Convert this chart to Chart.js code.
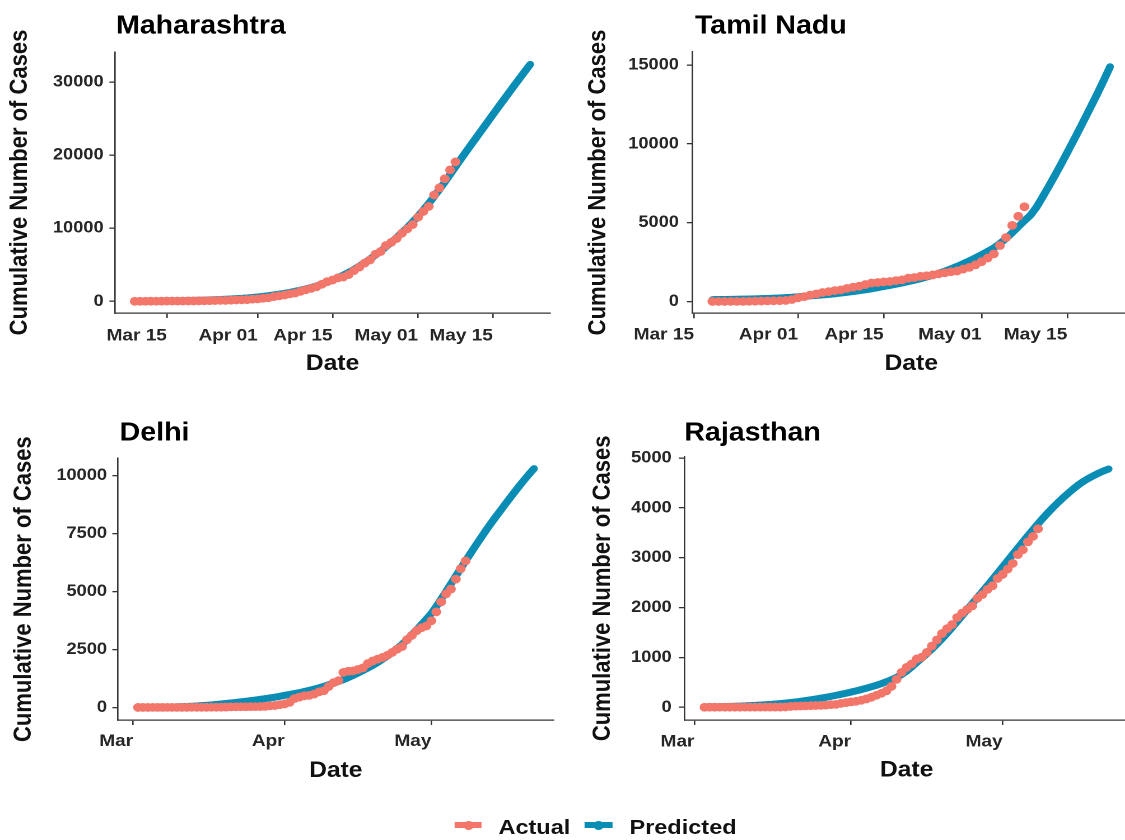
<!DOCTYPE html>
<html>
<head>
<meta charset="utf-8">
<title>Cumulative COVID-19 cases: actual vs predicted</title>
<script src="https://cdn.jsdelivr.net/npm/chart.js@4.4.1/dist/chart.umd.min.js"></script>
<style>
  html, body { margin: 0; padding: 0; background: #fff; width: 1125px; height: 840px; overflow: hidden; }
  /* the figure is laid out on a 1005px-wide sheet and widened to fill the page */
  #fig { position: absolute; left: 0; top: 0; width: 1005px; height: 840px;
         transform: scaleX(1.12); transform-origin: 0 0;
         font-family: 'Liberation Sans', Arial, Helvetica, sans-serif; }
  #fig canvas { position: absolute; }
  .key { position: absolute; height: 6px; top: 822px; }
  .dot { position: absolute; width: 9px; height: 9px; border-radius: 50%; top: 820.5px; }
  .lab { position: absolute; top: 816px; font-size: 21px; line-height: 21px; font-weight: bold; color: #111; white-space: nowrap; }
</style>
</head>
<body>
<div id="fig">
  <canvas id="maharashtra"></canvas>
  <canvas id="tamilnadu"></canvas>
  <canvas id="delhi"></canvas>
  <canvas id="rajasthan"></canvas>

  <div class="key" style="left:406px;width:24px;background:#F3766B"></div>
  <div class="dot" style="left:413.5px;background:#F3766B"></div>
  <div class="lab" style="left:445px">Actual</div>
  <div class="key" style="left:522px;width:25px;background:#0A8DB5"></div>
  <div class="dot" style="left:530px;background:#0A8DB5"></div>
  <div class="lab" style="left:562px">Predicted</div>
</div>

<script>
// ---- days are counted from 1 March 2020 (Mar 1 = 0) ----

// x-axis tick positions and labels
const fortnightTicks  = [14, 31, 45, 61, 75];
const fortnightLabels = ['Mar 15', 'Apr 01', 'Apr 15', 'May 01', 'May 15'];
const monthTicks  = [0, 31, 61];
const monthLabels = ['Mar', 'Apr', 'May'];

// y-axis ticks
const mhYTicks = [0, 10000, 20000, 30000];
const tnYTicks = [0, 5000, 10000, 15000];
const dlYTicks = [0, 2500, 5000, 7500, 10000];
const rjYTicks = [0, 1000, 2000, 3000, 4000, 5000];

// Maharashtra: actual from Mar 9, prediction Mar 9 - May 22
const mhFirstDay = 8;
const mhActual = [
  2, 5, 11, 14, 17, 26, 32, 39, 41, 45, 48, 52, 64, 74, 97, 107, 122, 130, 153, 186, 203, 220, 302,
  335, 423, 490, 635, 748, 868, 1018, 1135, 1364, 1574, 1761, 1982, 2334, 2687, 2916, 3202, 3323, 3648,
  4200, 4676, 5218, 5652, 6427, 6817, 7628, 8068, 8590, 9318, 9915, 10498,
  11506, 12296, 12974, 14541, 15525, 16758, 17974, 19063
];
const mhPredicted = [
  10, 15, 20, 28, 36, 45, 55, 66, 78, 92, 108, 126, 146, 168, 193, 220, 250, 283, 320, 360, 405, 455, 520,
  590, 670, 760, 860, 970, 1090, 1220, 1365, 1525, 1700, 1890, 2100, 2340, 2610, 2900, 3220, 3570, 3950,
  4360, 4800, 5270, 5770, 6300, 6860, 7450, 8070, 8720, 9400, 10110, 10850,
  11650, 12500, 13380, 14320, 15300, 16320, 17350, 18400, 19450, 20480, 21490, 22500, 23510, 24520,
  25530, 26530, 27530, 28520, 29510, 30490, 31460, 32420
];

// Tamil Nadu: actual from Mar 18, prediction Mar 18 - May 22
const tnFirstDay = 17;
const tnActual = [
  2, 3, 3, 6, 7, 9, 15, 18, 26, 38, 42, 50, 67, 124,
  234, 309, 411, 485, 571, 621, 690, 738, 834, 911, 969, 1075, 1173, 1204, 1242, 1267, 1323, 1372,
  1477, 1520, 1596, 1629, 1683, 1755, 1821, 1885, 1937, 2058, 2162, 2323,
  2526, 2757, 3023, 3550, 4058, 4829, 5409, 6009
];
const tnPredicted = [
  120, 124, 129, 135, 142, 150, 159, 169, 180, 193, 208, 225, 244, 268,
  300, 326, 354, 384, 417, 453, 492, 534, 580, 630, 684, 743, 807, 876, 950, 1020, 1095, 1175,
  1260, 1350, 1445, 1550, 1665, 1790, 1925, 2070, 2230, 2400, 2580, 2770,
  2970, 3180, 3400, 3680, 4000, 4360, 4740, 5120, 5480, 6000, 6650, 7320, 8010, 8720, 9450,
  10190, 10940, 11700, 12470, 13250, 14060, 14900
];

// Delhi: actual from Mar 2, prediction Mar 2 - May 22
const dlFirstDay = 1;
const dlActual = [
  1, 1, 1, 3, 3, 3, 3, 4, 4, 5, 6, 7, 7, 7, 7, 8, 10, 12, 17, 26, 29, 30, 31, 35, 36, 39, 49, 72, 87, 120,
  152, 219, 386, 445, 503, 523, 576, 669, 720, 903, 1069, 1154, 1510, 1561, 1578, 1640, 1707, 1893,
  2003, 2081, 2156, 2248, 2376, 2514, 2625, 2918, 3108, 3314, 3439, 3515,
  3738, 4122, 4549, 4898, 5104, 5532, 5980, 6318
];
const dlPredicted = [
  0, 2, 4, 6, 9, 12, 16, 21, 27, 34, 42, 52, 64, 78, 92, 108, 128, 148, 170, 192,
  215, 240, 266, 293, 321, 350, 380, 412, 445, 480,
  525, 560, 598, 640, 686, 736, 790, 848, 910, 976, 1046, 1120, 1200,
  1290, 1385, 1485, 1590, 1700, 1815, 1940, 2075, 2220, 2375, 2540, 2720, 2920, 3130, 3350, 3580, 3810,
  4050, 4350, 4670, 5000, 5330, 5660, 5990, 6320, 6640, 6960, 7270, 7580, 7880, 8170, 8450,
  8730, 9010, 9280, 9550, 9810, 10060, 10300
];

// Rajasthan: actual from Mar 3, prediction Mar 3 - May 22
const rjFirstDay = 2;
const rjActual = [
  1, 2, 2, 2, 2, 2, 2, 2, 3, 3, 3, 3, 4, 4, 4, 4, 7, 17, 23, 25, 28, 32, 36, 38, 43, 54, 59, 79, 93,
  108, 120, 140, 167, 200, 240, 280, 330, 420, 560, 700, 800, 870, 969, 1005, 1101, 1229, 1351,
  1478, 1576, 1659, 1801, 1890, 1964, 2034, 2185, 2262, 2364, 2438, 2584,
  2666, 2772, 2886, 3061, 3158, 3317, 3427, 3579
];
const rjPredicted = [
  5, 7, 9, 11, 14, 17, 20, 24, 28, 33, 38, 44, 50, 57, 65, 74, 84, 95, 107, 120, 134, 149, 165,
  182, 200, 219, 239, 260, 282,
  305, 329, 354, 381, 410, 441, 475, 512, 553, 600, 655, 725, 808, 900, 985, 1075, 1170, 1270,
  1375, 1485, 1600, 1720, 1840, 1960, 2080, 2200, 2320, 2440, 2565, 2690,
  2815, 2940, 3065, 3190, 3315, 3440, 3560, 3680, 3795, 3905, 4010, 4110, 4205, 4295, 4380,
  4460, 4530, 4590, 4645, 4695, 4740, 4780
];

// ---- drawing ----
const FONT = "'Liberation Sans', Arial, Helvetica, sans-serif";
const ACTUAL_COLOR = '#F3766B';
const PREDICTED_COLOR = '#0A8DB5';
const AXIS_COLOR = '#333333';
Chart.defaults.font.family = FONT;

// state name written above the top-left corner of each panel
const panelTitle = {
  id: 'panelTitle',
  afterDraw(chart, args, opts) {
    const ctx = chart.ctx;
    ctx.save();
    ctx.font = 'bold 25.5px ' + FONT;
    ctx.fillStyle = '#000';
    ctx.textAlign = 'left';
    ctx.textBaseline = 'alphabetic';
    ctx.fillText(opts.text, opts.x, opts.y);
    ctx.restore();
  }
};

const toPoints = (firstDay, values) => values.map((v, i) => ({ x: firstDay + i, y: v }));

function drawPanel(p) {
  const cv = document.getElementById(p.id);
  const [left, top, w, h] = p.box;
  cv.style.left = left + 'px';
  cv.style.top = top + 'px';
  cv.width = w;
  cv.height = h;

  const axisCommon = {
    type: 'linear',
    border: { display: true, color: AXIS_COLOR, width: 1.3 },
    grid: { display: true, drawOnChartArea: false, drawTicks: true, tickLength: 5,
            color: AXIS_COLOR, tickColor: AXIS_COLOR, lineWidth: 1.3 }
  };

  new Chart(cv, {
    type: 'scatter',
    data: {
      datasets: [
        { label: 'Actual', data: toPoints(p.firstDay, p.actual), showLine: false,
          pointRadius: 4.4, pointHoverRadius: 4.4, pointBorderWidth: 0,
          pointBackgroundColor: ACTUAL_COLOR, pointBorderColor: ACTUAL_COLOR },
        { label: 'Predicted', data: toPoints(p.firstDay, p.predicted), showLine: true,
          borderColor: PREDICTED_COLOR, borderWidth: 7, tension: 0,
          pointRadius: 3.4, pointHoverRadius: 3.4, pointBorderWidth: 0,
          pointBackgroundColor: PREDICTED_COLOR, pointBorderColor: PREDICTED_COLOR }
      ]
    },
    options: {
      responsive: false,
      animation: false,
      devicePixelRatio: 2,
      events: [],
      layout: { padding: { left: 0, top: p.area.top, right: w - p.area.right, bottom: 0 } },
      plugins: {
        legend: { display: false },
        tooltip: { enabled: false },
        panelTitle: { text: p.title, x: p.titleAt[0], y: p.titleAt[1] }
      },
      scales: {
        x: Object.assign({}, axisCommon, {
          position: 'bottom',
          min: p.xRange[0], max: p.xRange[1],
          afterBuildTicks: s => { s.ticks = p.xTicks.map(v => ({ value: v })); },
          afterFit: s => { s.height = h - p.area.bottom; },
          ticks: { autoSkip: false, maxRotation: 0, minRotation: 0, align: 'end', padding: p.xPad,
                   color: '#262626', font: { size: 17, weight: 'bold' },
                   callback: (v, i) => p.xLabels[i] },
          title: { display: true, text: 'Date', color: '#111',
                   font: { size: 22, weight: 'bold' }, padding: { top: 0, bottom: p.xTitlePad } }
        }),
        y: Object.assign({}, axisCommon, {
          position: 'left',
          min: p.yRange[0], max: p.yRange[1],
          afterBuildTicks: s => { s.ticks = p.yTicks.map(v => ({ value: v })); },
          afterFit: s => { s.width = p.area.left; },
          ticks: { padding: p.yPad, color: '#262626', font: { size: 16.3, weight: 'bold' },
                   callback: v => String(v) },
          title: { display: true, text: 'Cumulative Number of Cases', color: '#111',
                   font: { size: 22, weight: 'bold' }, padding: { top: p.yTitlePad, bottom: 0 } }
        })
      }
    },
    plugins: [panelTitle]
  });
}

drawPanel({ id: 'maharashtra', title: 'Maharashtra', box: [0, 0, 505, 400],
  area: { left: 102.7, top: 52, right: 491.1, bottom: 313 }, titleAt: [103.6, 33.3],
  xRange: [4.3, 85.7], yRange: [-1600, 34100], xTicks: fortnightTicks, xLabels: fortnightLabels,
  yTicks: mhYTicks, xPad: 7.8, yPad: 5.2, xTitlePad: 22.8, yTitlePad: 4.7,
  firstDay: mhFirstDay, actual: mhActual, predicted: mhPredicted });

drawPanel({ id: 'tamilnadu', title: 'Tamil Nadu', box: [505, 0, 510, 400],
  area: { left: 113.3, top: 51.7, right: 503.9, bottom: 313.3 }, titleAt: [115.5, 33.3],
  xRange: [13.75, 85.25], yRange: [-750, 15850], xTicks: fortnightTicks, xLabels: fortnightLabels,
  yTicks: tnYTicks, xPad: 6.5, yPad: 7.1, xTitlePad: 22.8, yTitlePad: 16.4,
  firstDay: tnFirstDay, actual: tnActual, predicted: tnPredicted });

drawPanel({ id: 'delhi', title: 'Delhi', box: [0, 400, 505, 400],
  area: { left: 105.3, top: 58.3, right: 494.3, bottom: 320 }, titleAt: [106.8, 40.7],
  xRange: [-3.1, 86], yRange: [-540, 10740], xTicks: monthTicks, xLabels: monthLabels,
  yTicks: dlYTicks, xPad: 6, yPad: 4.7, xTitlePad: 16, yTitlePad: 8.3,
  firstDay: dlFirstDay, actual: dlActual, predicted: dlPredicted });

drawPanel({ id: 'rajasthan', title: 'Rajasthan', box: [505, 400, 510, 400],
  area: { left: 106, top: 56.7, right: 503, bottom: 320 }, titleAt: [106, 40.7],
  xRange: [-2, 86], yRange: [-255, 5025], xTicks: monthTicks, xLabels: monthLabels,
  yTicks: rjYTicks, xPad: 6.5, yPad: 6.3, xTitlePad: 16.3, yTitlePad: 20.4,
  firstDay: rjFirstDay, actual: rjActual, predicted: rjPredicted });
</script>
</body>
</html>
